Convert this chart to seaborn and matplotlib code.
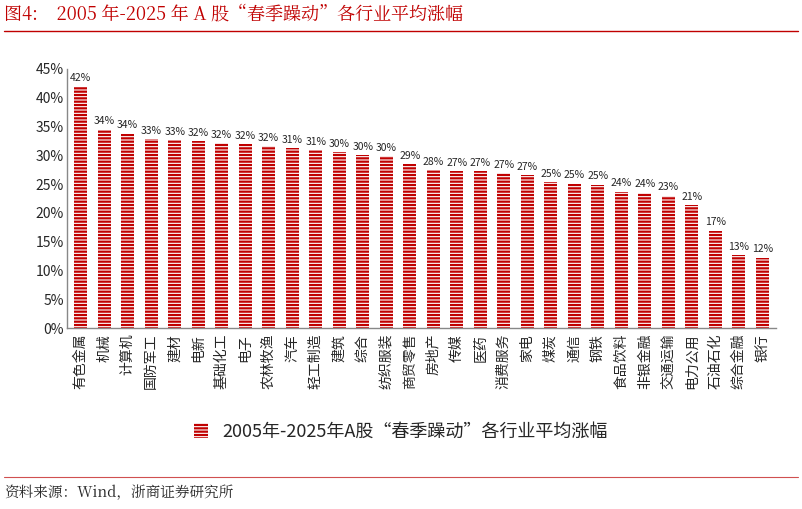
import matplotlib
matplotlib.use("Agg")
import matplotlib.pyplot as plt
import seaborn as sns
import pandas as pd
from matplotlib.patches import Patch
from matplotlib.lines import Line2D
from matplotlib.ticker import FuncFormatter

sns.set_theme(style="white")
plt.rcParams['font.family'] = ['Noto Sans CJK SC', 'DejaVu Sans']
plt.rcParams['hatch.linewidth'] = 1.6
plt.rcParams['hatch.color'] = '#C00000'

industries = ["有色金属","机械","计算机","国防军工","建材","电新","基础化工","电子","农林牧渔","汽车",
              "轻工制造","建筑","综合","纺织服装","商贸零售","房地产","传媒","医药","消费服务","家电",
              "煤炭","通信","钢铁","食品饮料","非银金融","交通运输","电力公用","石油石化","综合金融","银行"]
values = [41.9,34.4,33.7,32.8,32.6,32.4,32.1,31.9,31.6,31.2,30.9,30.5,30.0,29.8,28.4,27.4,27.2,27.2,26.9,26.5,
          25.3,25.1,24.9,23.7,23.5,23.0,21.3,16.9,12.7,12.2]
labels = ["42%","34%","34%","33%","33%","32%","32%","32%","32%","31%","31%","30%","30%","30%","29%","28%",
          "27%","27%","27%","27%","25%","25%","25%","24%","24%","23%","21%","17%","13%","12%"]
df = pd.DataFrame({"ind": industries, "val": values})

serif = ['Noto Serif CJK SC', 'Noto Sans CJK SC', 'DejaVu Serif']

fig = plt.figure(figsize=(8.02, 5.09), dpi=100)
ax = fig.add_axes([0.083, 0.355, 0.885, 0.51])
sns.barplot(data=df, x="ind", y="val", ax=ax, color="white", width=0.55,
            edgecolor="#C00000", linewidth=0)
for p in ax.patches:
    p.set_hatch("-----")
    p.set_facecolor("white")
for p, t in zip(ax.patches, labels):
    ax.text(p.get_x() + p.get_width()/2, p.get_height() + 0.6, t, ha="center", va="bottom", fontsize=7.5)

ax.set_ylim(0, 45)
ax.set_yticks(range(0, 46, 5))
ax.yaxis.set_major_formatter(FuncFormatter(lambda v, _: f"{int(v)}%"))
ax.set_xlim(-0.6, len(industries) - 0.4)
ax.set_xlabel(""); ax.set_ylabel("")
ax.tick_params(axis="y", labelsize=10, length=0, pad=2)
ax.tick_params(axis="x", labelsize=10, length=0, pad=4)
ax.set_xticks(range(len(industries)))
ax.set_xticklabels(industries, rotation=90, va="top", ha="center")
for s in ["top", "right"]:
    ax.spines[s].set_visible(False)
for s in ["left", "bottom"]:
    ax.spines[s].set_color("#888888"); ax.spines[s].set_linewidth(1)

leg_patch = Patch(facecolor="white", hatch="-----", edgecolor="#C00000", linewidth=0)
fig.legend([leg_patch], ["2005年-2025年A股“春季躁动”各行业平均涨幅"], loc="center",
           bbox_to_anchor=(0.5, 0.151), frameon=False, fontsize=13, handlelength=0.8, handleheight=0.9)

fig.text(0.005, 0.972, "图4:    2005 年-2025 年 A 股“春季躁动”各行业平均涨幅", color="#C00000",
         fontsize=13, ha="left", va="center", family=serif)
fig.add_artist(Line2D([0.005, 0.995], [0.939, 0.939], color="#C00000", lw=1))
fig.add_artist(Line2D([0.005, 0.995], [0.063, 0.063], color="#D05050", lw=0.8))
fig.text(0.005, 0.031, "资料来源：Wind，浙商证券研究所", fontsize=10.5, ha="left", va="center", family=serif)

fig.savefig("out.png", dpi=100)
